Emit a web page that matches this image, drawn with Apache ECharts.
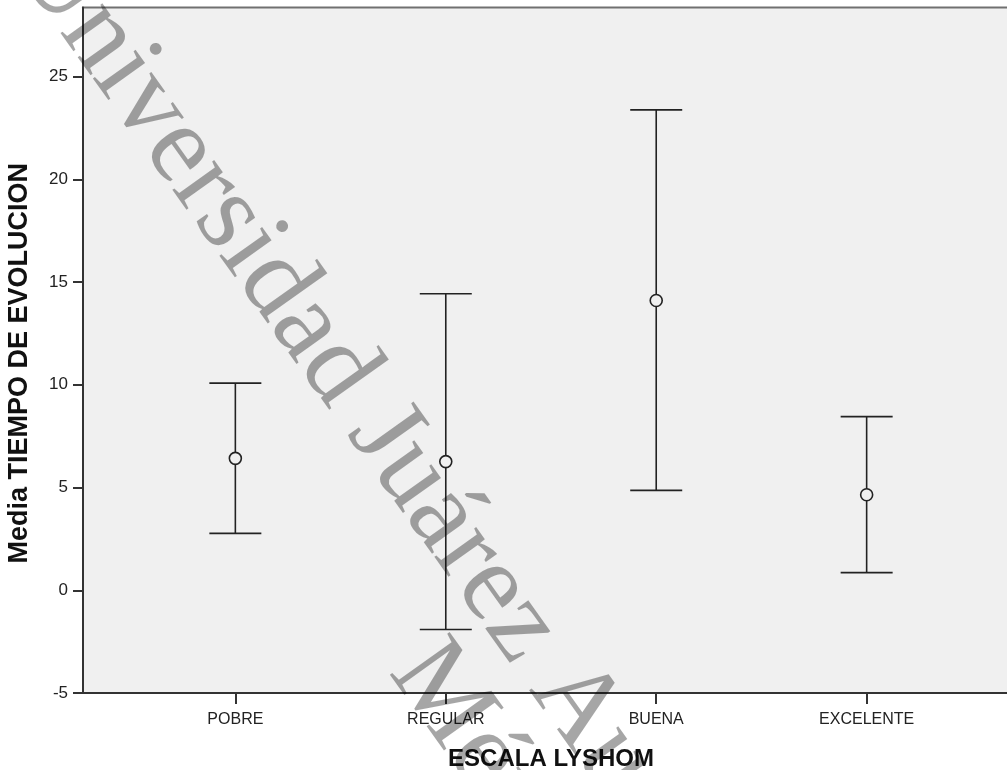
<!DOCTYPE html>
<html>
<head>
<meta charset="utf-8">
<script src="https://cdn.jsdelivr.net/npm/echarts@6/dist/echarts.min.js"></script>
<style>
html,body{margin:0;padding:0;background:#fff;}
#chart{width:1007px;height:770px;}
</style>
</head>
<body>
<div id="chart"></div>
<script>
var categories = ['POBRE', 'REGULAR', 'BUENA', 'EXCELENTE'];
var means = [6.42, 6.26, 14.1, 4.65];
var upper = [10.08, 14.43, 23.38, 8.45];
var lower = [2.77, -1.91, 4.86, 0.86];
var yTicks = [-5, 0, 5, 10, 15, 20, 25];

var chart = echarts.init(document.getElementById('chart'), null, {renderer: 'canvas'});

var barData = categories.map(function (c, i) { return [i + 1, lower[i], upper[i]]; });
var meanData = categories.map(function (c, i) { return [i + 1, means[i]]; });
var catPos = categories.map(function (c, i) { return i + 1; });

var rot = -54.5 * Math.PI / 180;

var option = {
  backgroundColor: '#ffffff',
  animation: false,
  grid: {
    left: 83, top: 7.5, width: 936, bottom: 77,
    outerBoundsMode: 'none', containLabel: false,
    show: true, backgroundColor: '#f0f0f0', borderColor: '#707070', borderWidth: 2
  },
  xAxis: {
    type: 'value', min: 0.276, max: 4.724,
    name: 'ESCALA LYSHOM', nameLocation: 'middle', nameGap: 54,
    nameTextStyle: {fontFamily: 'Liberation Sans', fontWeight: 'bold', fontSize: 24, color: '#111'},
    splitLine: {show: false},
    axisLine: {show: true, onZero: false, lineStyle: {color: '#333', width: 2}},
    axisTick: {show: true, customValues: catPos, length: 11, lineStyle: {color: '#333', width: 2}},
    axisLabel: {
      customValues: catPos, margin: 19,
      fontFamily: 'Liberation Sans', fontSize: 16, color: '#222',
      formatter: function (v) { return categories[Math.round(v) - 1] || ''; }
    }
  },
  yAxis: {
    type: 'value', min: -5, max: 28.36, interval: 5,
    name: 'Media TIEMPO DE EVOLUCION', nameLocation: 'middle', nameGap: 50,
    nameTextStyle: {fontFamily: 'Liberation Sans', fontWeight: 'bold', fontSize: 27, color: '#111', padding: [0, 26, 0, 0]},
    splitLine: {show: false},
    axisLine: {show: true, onZero: false, lineStyle: {color: '#333', width: 2}},
    axisTick: {show: true, length: 10, lineStyle: {color: '#333', width: 2}},
    axisLabel: {
      showMaxLabel: false, margin: 15,
      fontFamily: 'Liberation Sans', fontSize: 17, color: '#222',
      formatter: function (v) { return yTicks.indexOf(v) >= 0 ? String(v) : ''; }
    }
  },
  series: [
    {
      type: 'custom',
      data: barData,
      encode: {x: 0, y: [1, 2]},
      renderItem: function (params, api) {
        var x = api.value(0);
        var lo = api.coord([x, api.value(1)]);
        var hi = api.coord([x, api.value(2)]);
        var hw = 26;
        var st = {stroke: '#222', lineWidth: 1.6};
        return {
          type: 'group',
          children: [
            {type: 'line', shape: {x1: lo[0], y1: lo[1], x2: hi[0], y2: hi[1]}, style: st},
            {type: 'line', shape: {x1: lo[0] - hw, y1: lo[1], x2: lo[0] + hw, y2: lo[1]}, style: st},
            {type: 'line', shape: {x1: hi[0] - hw, y1: hi[1], x2: hi[0] + hw, y2: hi[1]}, style: st}
          ]
        };
      },
      z: 2
    },
    {
      type: 'scatter',
      data: meanData,
      symbol: 'circle',
      symbolSize: 12,
      itemStyle: {color: '#f0f0f0', borderColor: '#222', borderWidth: 1.6, opacity: 1},
      z: 3
    }
  ],
  graphic: [
    {
      type: 'text', x: 36, y: -52, rotation: rot, z: 100, silent: true,
      style: {
        text: 'Universidad Juárez Autónoma de Tabasco',
        fontFamily: 'Liberation Serif', fontSize: 112,
        fill: 'rgba(0,0,0,0.35)', align: 'left', verticalAlign: 'middle'
      }
    },
    {
      type: 'text', x: 412, y: 655, rotation: rot, z: 100, silent: true,
      style: {
        text: 'México',
        fontFamily: 'Liberation Serif', fontSize: 112,
        fill: 'rgba(0,0,0,0.35)', align: 'left', verticalAlign: 'middle'
      }
    }
  ]
};
chart.setOption(option);
</script>
</body>
</html>
